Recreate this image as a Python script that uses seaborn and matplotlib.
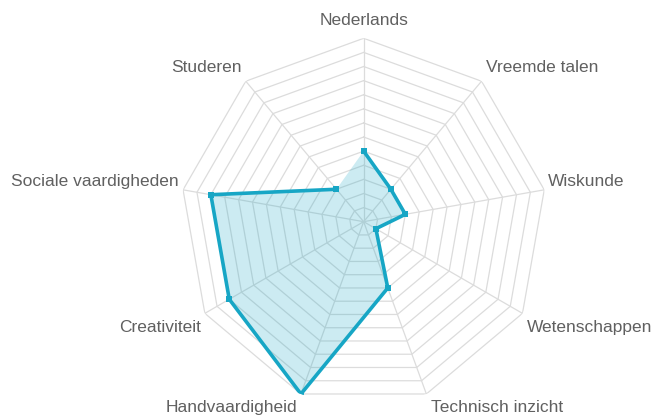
import numpy as np
import pandas as pd
import matplotlib
matplotlib.use("Agg")
import matplotlib.pyplot as plt
import seaborn as sns

categories = ["Nederlands", "Vreemde talen", "Wiskunde", "Wetenschappen", "Technisch inzicht",
              "Handvaardigheid", "Creativiteit", "Sociale vaardigheden", "Studeren"]
scores = [5, 3, 3, 1, 5, 13, 11, 11, 3]
max_score = 13

LINE = "#17a6c5"
GRID = "#dcdcdc"

sns.set_style("white")
plt.rcParams["font.family"] = ["Liberation Sans", "DejaVu Sans"]

n = len(categories)
angles = np.pi / 2 - np.arange(n) * 2 * np.pi / n

df = pd.DataFrame({"angle": np.append(angles, angles[0]), "score": scores + [scores[0]]})

fig = plt.figure(figsize=(6.56, 4.15), dpi=100)
ax = fig.add_axes([0.2748, 0.0239, 0.5591, 0.8839], projection="polar")
ax.set_ylim(0, max_score)
ax.set_axis_off()

# grid rings + spokes
ring_angles = np.append(angles, angles[0])
for lvl in range(1, max_score + 1):
    ax.plot(ring_angles, [lvl] * (n + 1), color=GRID, lw=0.9, zorder=1)
for a in angles:
    ax.plot([a, a], [0, max_score], color=GRID, lw=0.9, zorder=1)

ax.fill(df["angle"], df["score"], color=LINE, alpha=0.22, lw=0, zorder=2)
sns.lineplot(data=df, x="angle", y="score", sort=False, ax=ax, color=LINE, lw=2.6,
             marker="s", markersize=5, markeredgewidth=0, zorder=3)
ax.set_xlabel("")
ax.set_ylabel("")

# labels
for a, lab in zip(angles, categories):
    c, s = np.cos(a), np.sin(a)
    if abs(c) < 0.05:
        ha, dx, dy = "center", 0, 13
    else:
        ha = "left" if c > 0 else "right"
        dx = 3 * np.sign(c)
        if s > 0.5:
            dy = 10
        elif s > 0:
            dy = 6
        else:
            dy = -10
    ax.annotate(lab, xy=(a, max_score), xytext=(dx, dy), textcoords="offset points",
                ha=ha, va="center", fontsize=12.5, color="#606060", annotation_clip=False)

fig.savefig("out.png", dpi=100)
